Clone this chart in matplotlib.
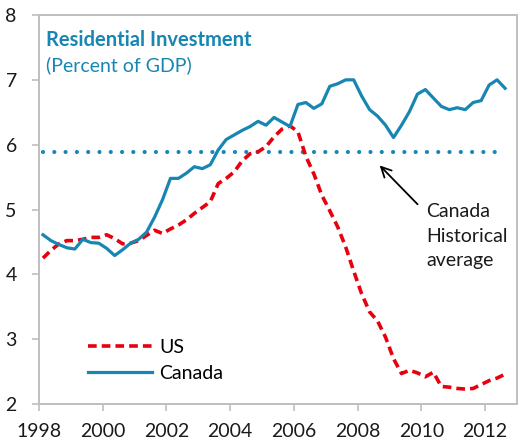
import numpy as np
import matplotlib
matplotlib.use("Agg")
import matplotlib.pyplot as plt

plt.rcParams['font.family'] = ['Lato', 'DejaVu Sans']

# quarterly data, 1998Q1 - 2012Q3
quarters = 1998.125 + 0.25 * np.arange(59)

canada = [4.61, 4.52, 4.46, 4.41, 4.39, 4.54, 4.49, 4.48, 4.40, 4.29,
          4.38, 4.48, 4.54, 4.65, 4.88, 5.15, 5.48, 5.48, 5.56, 5.66,
          5.63, 5.69, 5.92, 6.08, 6.15, 6.22, 6.28, 6.36, 6.30, 6.42,
          6.35, 6.28, 6.62, 6.65, 6.56, 6.63, 6.90, 6.94, 7.00, 7.00,
          6.75, 6.54, 6.44, 6.30, 6.11, 6.30, 6.51, 6.78, 6.85, 6.72,
          6.59, 6.54, 6.57, 6.54, 6.65, 6.68, 6.92, 7.00, 6.87]

us = [4.25, 4.37, 4.47, 4.52, 4.52, 4.54, 4.57, 4.57, 4.61, 4.55,
      4.47, 4.48, 4.52, 4.60, 4.68, 4.63, 4.70, 4.76, 4.84, 4.94,
      5.03, 5.12, 5.40, 5.48, 5.58, 5.75, 5.86, 5.89, 5.97, 6.12,
      6.24, 6.29, 6.20, 5.82, 5.55, 5.22, 4.98, 4.73, 4.42, 4.05,
      3.70, 3.42, 3.28, 3.03, 2.70, 2.47, 2.52, 2.48, 2.42, 2.49,
      2.27, 2.26, 2.24, 2.23, 2.24, 2.30, 2.36, 2.40, 2.46]

canada_avg = 5.89
xticks = [1998, 2000, 2002, 2004, 2006, 2008, 2010, 2012]
yticks = [2, 3, 4, 5, 6, 7, 8]

blue = '#1786b3'
red = '#e8000f'
gray = '#bfbfbf'

W, H = 518, 447
fig = plt.figure(figsize=(W / 100, H / 100), dpi=100)
ax = fig.add_axes([39 / W, 1 - 404 / H, (517 - 39) / W, (404 - 15) / H])

# historical average (dotted)
ax.plot([quarters[0], quarters[-1]], [canada_avg, canada_avg], color=blue,
        lw=3.0, linestyle=(0, (0.01, 2.7)), dash_capstyle='round')

ax.plot(quarters, us, color=red, lw=2.6, linestyle=(0, (2.4, 1.4)), label='US')
ax.plot(quarters, canada, color=blue, lw=2.3, label='Canada')

ax.set_xlim(1998, 2013)
ax.set_ylim(2, 8)
ax.set_xticks(xticks)
ax.set_yticks(yticks)
ax.tick_params(axis='both', colors=gray, labelcolor='#1a1a1a', labelsize=14,
               length=5, width=1.2, direction='out')
ax.tick_params(axis='x', pad=9)
ax.tick_params(axis='y', pad=11)
for s in ax.spines.values():
    s.set_color(gray)
    s.set_linewidth(1.4)

ax.text(0.015, 0.935, 'Residential Investment', transform=ax.transAxes,
        color=blue, fontsize=14.5, fontweight='bold', va='center')
ax.text(0.015, 0.872, '(Percent of GDP)', transform=ax.transAxes,
        color=blue, fontsize=14, va='center')

ax.text(2010.15, 5.10, 'Canada\nHistorical\naverage', fontsize=14,
        color='#1a1a1a', va='top', ha='left', linespacing=1.55)
ax.annotate('', xy=(2008.69, 5.68), xytext=(2009.88, 5.08),
            arrowprops=dict(arrowstyle='->', color='black', lw=1.3,
                            mutation_scale=18, shrinkA=0, shrinkB=0))

leg = ax.legend(loc='lower left', bbox_to_anchor=(0.065, 0.012), frameon=False,
                fontsize=14, handlelength=3.3, handletextpad=0.4,
                labelspacing=0.45)

fig.savefig('out.png', dpi=100)
